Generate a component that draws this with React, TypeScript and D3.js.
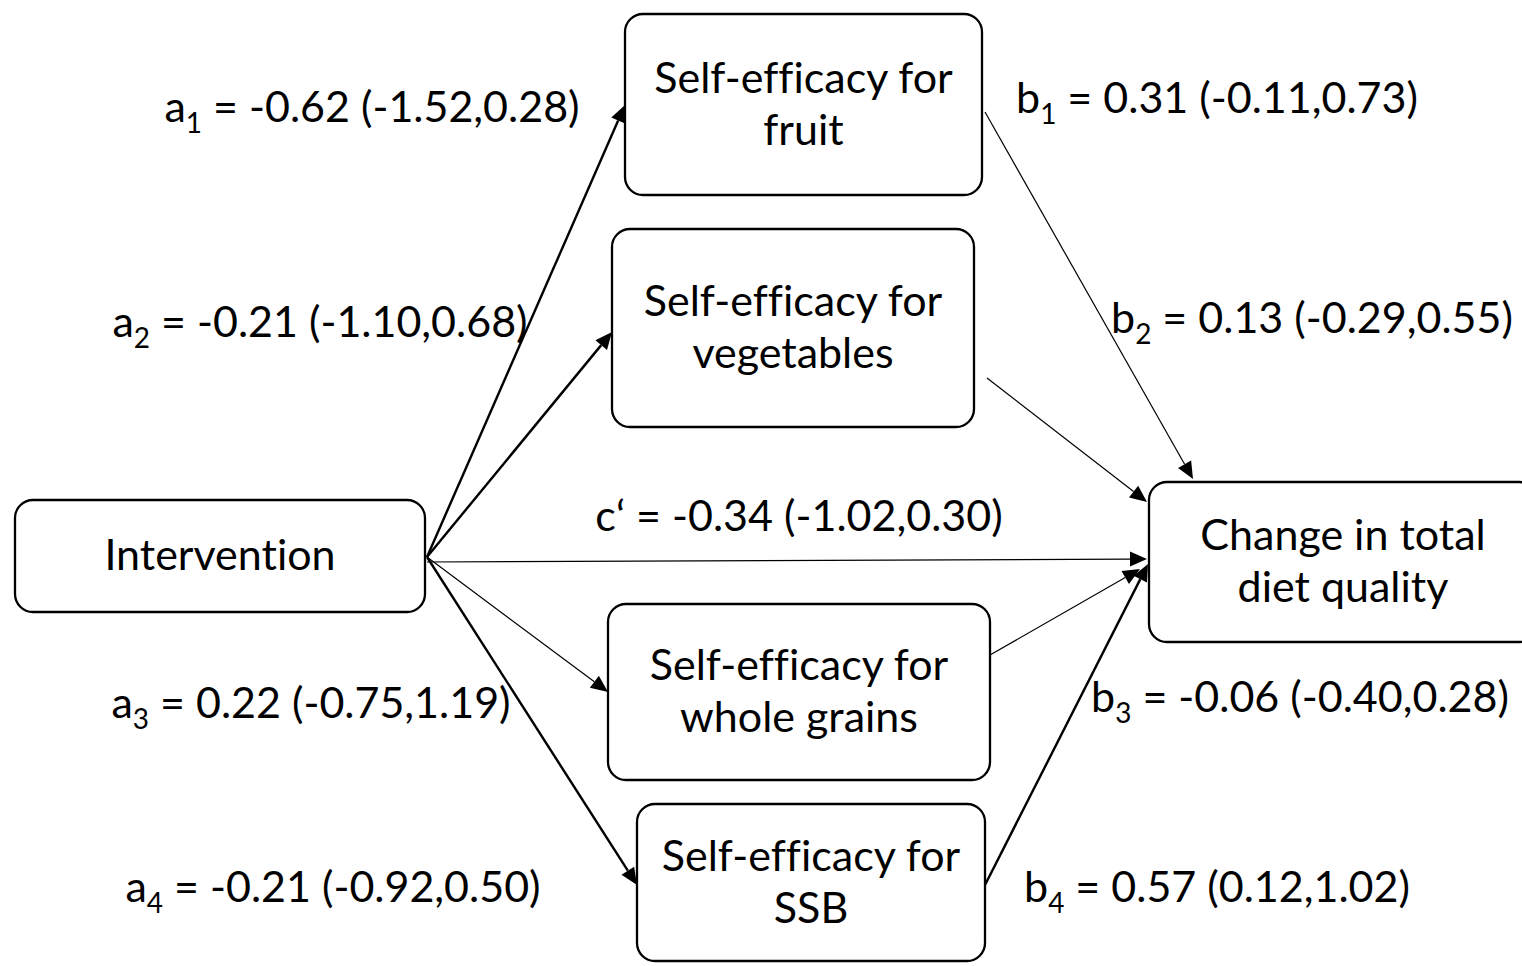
import { useEffect, useRef } from 'react';
import * as d3 from 'd3';

// Node labels (mediation model)
const exposureLabel = ['Intervention'];
const mediatorLabels = [
    ['Self-efficacy for', 'fruit'],
    ['Self-efficacy for', 'vegetables'],
    ['Self-efficacy for', 'whole grains'],
    ['Self-efficacy for', 'SSB'],
];
const outcomeLabel = ['Change in total', 'diet quality'];

// Path coefficients with 95% CI
const aEstimates = [-0.62, -0.21, 0.22, -0.21];
const aLower = [-1.52, -1.10, -0.75, -0.92];
const aUpper = [0.28, 0.68, 1.19, 0.50];

const bEstimates = [0.31, 0.13, -0.06, 0.57];
const bLower = [-0.11, -0.29, -0.40, 0.12];
const bUpper = [0.73, 0.55, 0.28, 1.02];

const cEstimate = -0.34;
const cLower = -1.02;
const cUpper = 0.30;

// significant paths drawn heavier
const aBold = [true, true, false, true];
const bBold = [false, false, false, true];

const W = 1522;
const H = 966;
const FONT = 'Lato, "Open Sans", sans-serif';
const FS = 43;

// layout (pixel boxes for the nodes)
const exposureBox = { x0: 15, x1: 425, y0: 500, y1: 612 };
const mediatorBoxes = [
    { x0: 625, x1: 982, y0: 14, y1: 195 },
    { x0: 612, x1: 974, y0: 229, y1: 427 },
    { x0: 608, x1: 990, y0: 604, y1: 780 },
    { x0: 637, x1: 985, y0: 804, y1: 961 },
];
const outcomeBox = { x0: 1149, x1: 1537, y0: 482, y1: 642 };

// arrow anchor points
const aFrom: [number, number] = [427, 557];
const aTo: [number, number][] = [[625, 105], [612, 332], [608, 692], [637, 885]];
const bFrom: [number, number][] = [[985, 112], [987, 378], [990, 655], [985, 885]];
const bTo: [number, number][] = [[1193, 479], [1147, 502], [1140, 569], [1148, 564]];
const cFrom: [number, number] = [427, 562];
const cTo: [number, number] = [1147, 559];

// label anchors (centre x, baseline y)
const aLabelPos: [number, number][] = [[372, 122], [320, 337], [311, 718], [333, 902]];
const bLabelPos: [number, number][] = [[1217, 113], [1312, 333], [1300, 712], [1217, 902]];
const cLabelPos: [number, number] = [799, 531];

// plain hyphen for negatives, as in the source figure
const fmt = (v: number) => v.toFixed(2);

export default function App() {
    const svgRef = useRef<SVGSVGElement>(null);

    useEffect(() => {
        if (!svgRef.current) return;
        const svg = d3.select(svgRef.current);
        svg.selectAll('*').remove();

        const g = svg.append('g')
            .style('font-variant-ligatures', 'none')
            .style('font-feature-settings', '"liga" 0, "clig" 0');
        const line = d3.line<[number, number]>();

        // 1. arrows
        const arrow = (from: [number, number], to: [number, number], bold: boolean) => {
            const dx = to[0] - from[0];
            const dy = to[1] - from[1];
            const len = Math.hypot(dx, dy);
            const ux = dx / len, uy = dy / len;
            const head = 17, half = 7.5;
            const base: [number, number] = [to[0] - ux * head, to[1] - uy * head];
            g.append('path')
                .attr('d', line([from, base]))
                .attr('fill', 'none')
                .attr('stroke', '#000')
                .attr('stroke-width', bold ? 2.4 : 1.2);
            g.append('path')
                .attr('d', line([
                    to,
                    [base[0] - uy * half, base[1] + ux * half],
                    [base[0] + uy * half, base[1] - ux * half],
                ]) + 'Z')
                .attr('fill', '#000');
        };

        aTo.forEach((t, i) => arrow(aFrom, t, aBold[i]));
        bFrom.forEach((f, i) => arrow(f, bTo[i], bBold[i]));
        arrow(cFrom, cTo, false);

        // 2. boxes
        const box = (b: { x0: number; x1: number; y0: number; y1: number }, lines: string[]) => {
            g.append('rect')
                .attr('x', b.x0).attr('y', b.y0)
                .attr('width', b.x1 - b.x0).attr('height', b.y1 - b.y0)
                .attr('rx', 18).attr('ry', 18)
                .attr('fill', '#fff')
                .attr('stroke', '#000')
                .attr('stroke-width', 2.3);
            const cx = (b.x0 + b.x1) / 2;
            const cy = (b.y0 + b.y1) / 2;
            const first = lines.length === 1 ? cy + 14 : cy - 12;
            lines.forEach((l, i) => {
                g.append('text')
                    .attr('x', cx)
                    .attr('y', first + i * 52)
                    .attr('text-anchor', 'middle')
                    .attr('font-family', FONT)
                    .attr('font-size', FS)
                    .attr('fill', '#000')
                    .text(l);
            });
        };

        box(exposureBox, exposureLabel);
        mediatorBoxes.forEach((b, i) => box(b, mediatorLabels[i]));
        box(outcomeBox, outcomeLabel);

        // 3. coefficient labels
        const label = (pos: [number, number], sym: string, sub: string, est: number, lo: number, hi: number) => {
            const t = g.append('text')
                .attr('x', pos[0])
                .attr('y', pos[1])
                .attr('text-anchor', 'middle')
                .attr('font-family', FONT)
                .attr('font-size', FS)
                .attr('fill', '#000');
            t.append('tspan').text(sym);
            if (sub) {
                t.append('tspan').attr('font-size', FS * 0.65).attr('dy', 11).text(sub);
                t.append('tspan').attr('dy', -11).text(` = ${fmt(est)} (${fmt(lo)},${fmt(hi)})`);
            } else {
                t.append('tspan').text(` = ${fmt(est)} (${fmt(lo)},${fmt(hi)})`);
            }
        };

        aEstimates.forEach((e, i) => label(aLabelPos[i], 'a', String(i + 1), e, aLower[i], aUpper[i]));
        bEstimates.forEach((e, i) => label(bLabelPos[i], 'b', String(i + 1), e, bLower[i], bUpper[i]));
        label(cLabelPos, 'c\u2018', '', cEstimate, cLower, cUpper);
    }, []);

    return (
        <svg
            ref={svgRef}
            width={W}
            height={H}
            style={{ position: 'absolute', left: 0, top: 0, background: '#fff' }}
        />
    );
}
